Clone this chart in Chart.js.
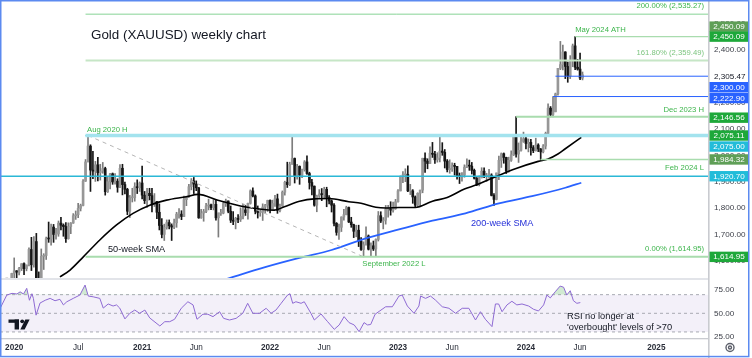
<!DOCTYPE html>
<html>
<head>
<meta charset="utf-8">
<title>Gold (XAUUSD) weekly chart</title>
<script src="https://cdn.jsdelivr.net/npm/chart.js@4.4.1/dist/chart.umd.min.js"></script>
<style>
  html, body { margin: 0; padding: 0; background: #fff; }
  canvas { display: block; }
</style>
</head>
<body>
<canvas id="goldChart" width="752" height="358"></canvas>
<script>
// Weekly candles. Week 0 = week of 6 Jan 2020, first candle is week of 2 Dec 2019.
const firstWeek = -5;

const opens = [
  1464, 1460, 1476, 1478, 1511,
  // 2020
  1552, 1562, 1557, 1571, 1589, 1570, 1584, 1643, 1585, 1673, 1530, 1498, 1617,
  1620, 1684, 1683, 1728, 1700, 1702, 1743, 1735, 1730, 1684, 1730, 1743, 1771,
  1775, 1799, 1810, 1902, 1975, 2035, 1944, 1940, 1964, 1934, 1940, 1950, 1862,
  1900, 1930, 1899, 1902, 1879, 1951, 1889, 1871, 1788, 1839, 1839, 1881, 1877,
  // 2021
  1895, 1849, 1828, 1856, 1847, 1814, 1824, 1784, 1734, 1700, 1727, 1745, 1733,
  1728, 1744, 1777, 1777, 1768, 1832, 1843, 1881, 1903, 1891, 1877, 1763, 1781,
  1787, 1808, 1812, 1802, 1814, 1763, 1780, 1781, 1817, 1827, 1788, 1754, 1750,
  1761, 1757, 1768, 1793, 1783, 1818, 1865, 1846, 1788, 1783, 1784, 1804, 1811,
  // 2022
  1829, 1797, 1817, 1835, 1791, 1808, 1860, 1898, 1889, 1966, 1988, 1921, 1958,
  1925, 1946, 1975, 1931, 1897, 1883, 1811, 1846, 1853, 1851, 1871, 1840, 1827,
  1811, 1742, 1708, 1727, 1766, 1775, 1802, 1747, 1737, 1712, 1716, 1675, 1643,
  1661, 1694, 1644, 1657, 1645, 1681, 1771, 1751, 1754, 1797, 1797, 1792, 1798,
  // 2023
  1824, 1865, 1920, 1926, 1928, 1865, 1865, 1842, 1811, 1856, 1868, 1989, 1978,
  1969, 2008, 2004, 1983, 1990, 2016, 2011, 1978, 1946, 1948, 1961, 1958, 1921,
  1919, 1925, 1955, 1962, 1959, 1943, 1913, 1889, 1915, 1940, 1919, 1924, 1925,
  1848, 1833, 1933, 1981, 2006, 1992, 1940, 1981, 2002, 2072, 2005, 2019, 2053,
  // 2024
  2063, 2045, 2049, 2029, 2018, 2039, 2024, 2013, 2035, 2083, 2179, 2155,
  2165, 2233, 2330, 2344, 2392, 2337, 2301, 2360, 2415, 2334, 2327, 2293
];

const highs = [
  1485, 1481, 1482, 1514, 1553,
  1611, 1563, 1575, 1589, 1592, 1584, 1649, 1689, 1692, 1704, 1558, 1645, 1627,
  1690, 1747, 1739, 1738, 1723, 1751, 1765, 1740, 1745, 1744, 1745, 1779, 1789,
  1818, 1815, 1908, 1984, 2075, 2040, 2015, 1977, 1992, 1966, 1973, 1955, 1917,
  1932, 1933, 1931, 1911, 1965, 1966, 1899, 1875, 1848, 1875, 1896, 1907, 1899,
  1959, 1863, 1875, 1875, 1875, 1855, 1826, 1816, 1760, 1739, 1755, 1755, 1740,
  1758, 1784, 1798, 1790, 1845, 1845, 1890, 1912, 1916, 1903, 1878, 1795, 1795,
  1818, 1834, 1815, 1832, 1831, 1782, 1795, 1823, 1834, 1827, 1808, 1787, 1765,
  1775, 1801, 1814, 1810, 1819, 1869, 1877, 1850, 1808, 1793, 1816, 1814, 1830,
  1831, 1830, 1848, 1853, 1815, 1865, 1902, 1974, 1974, 2070, 1990, 1966, 1960,
  1948, 1980, 1998, 1936, 1909, 1884, 1849, 1870, 1874, 1879, 1879, 1847, 1831,
  1817, 1745, 1739, 1767, 1795, 1807, 1804, 1765, 1739, 1735, 1735, 1688, 1672,
  1729, 1698, 1668, 1675, 1683, 1787, 1786, 1764, 1810, 1810, 1824, 1823, 1833,
  1870, 1922, 1938, 1949, 1960, 1890, 1870, 1846, 1858, 1868, 1989, 2009, 1987,
  2032, 2049, 2015, 2010, 2079, 2048, 2022, 1984, 1983, 1972, 1970, 1958, 1933,
  1935, 1964, 1987, 1982, 1973, 1948, 1916, 1922, 1953, 1953, 1932, 1947, 1930,
  1855, 1933, 1997, 2009, 2009, 1993, 1993, 2017, 2076, 2146.56, 2047, 2070, 2088,
  2078, 2062, 2061, 2037, 2065, 2044, 2026, 2041, 2088, 2195, 2185, 2222.90,
  2236, 2330, 2432, 2418, 2393, 2354, 2378, 2422, 2450.09, 2364, 2388, 2316
];

const lows = [
  1457, 1456, 1469, 1477, 1508,
  1536, 1536, 1546, 1563, 1547, 1562, 1581, 1563, 1576, 1504, 1451, 1482, 1567,
  1605, 1670, 1659, 1670, 1682, 1693, 1717, 1693, 1670, 1682, 1703, 1742, 1757,
  1764, 1789, 1808, 1901, 1975, 1863, 1911, 1901, 1903, 1906, 1932, 1849, 1859,
  1873, 1890, 1891, 1860, 1877, 1850, 1854, 1775, 1764, 1823, 1826, 1855, 1863,
  1835, 1817, 1802, 1831, 1785, 1806, 1760, 1717, 1687, 1677, 1720, 1721, 1677,
  1722, 1727, 1762, 1756, 1767, 1809, 1840, 1869, 1855, 1866, 1761, 1761, 1750,
  1783, 1793, 1794, 1793, 1754, 1690, 1772, 1778, 1806, 1782, 1745, 1737, 1721,
  1745, 1749, 1759, 1772, 1758, 1815, 1842, 1778, 1762, 1769, 1753, 1782, 1787,
  1782, 1797, 1806, 1780, 1785, 1807, 1849, 1878, 1885, 1966, 1895, 1910, 1890,
  1915, 1940, 1928, 1872, 1850, 1807, 1786, 1840, 1828, 1836, 1805, 1816, 1785,
  1732, 1697, 1681, 1711, 1754, 1774, 1745, 1727, 1688, 1691, 1654, 1639, 1614.95,
  1659, 1641, 1618, 1639, 1617, 1675, 1745, 1721, 1739, 1765, 1773, 1784, 1795,
  1822, 1865, 1896, 1900, 1862, 1851, 1818, 1804, 1805, 1809, 1858, 1935, 1949,
  1969, 1992, 1969, 1974, 1975, 2000, 1952, 1937, 1932, 1939, 1925, 1910, 1893,
  1902, 1917, 1953, 1943, 1929, 1910, 1885, 1884, 1914, 1915, 1901, 1913, 1846,
  1810, 1831, 1908, 1954, 1970, 1931, 1936, 1977, 1999, 1993, 1973, 2016, 2049,
  2024, 2013, 2001, 2010, 2016, 2014, 1984.32, 2009, 2024, 2078, 2146, 2146,
  2165, 2228, 2325, 2324, 2291, 2277, 2291, 2336, 2325, 2323, 2287, 2286
];

const closes = [
  1460, 1476, 1478, 1511, 1552,
  1562, 1557, 1571, 1589, 1570, 1584, 1643, 1585, 1673, 1530, 1498, 1617, 1620,
  1684, 1683, 1728, 1700, 1702, 1743, 1735, 1730, 1684, 1730, 1743, 1771, 1775,
  1799, 1810, 1902, 1975, 2035, 1944, 1940, 1964, 1934, 1940, 1950, 1862, 1900,
  1930, 1899, 1902, 1879, 1951, 1889, 1871, 1788, 1839, 1839, 1881, 1877, 1895,
  1849, 1828, 1856, 1847, 1814, 1824, 1784, 1734, 1700, 1727, 1745, 1733, 1728,
  1744, 1777, 1777, 1768, 1832, 1843, 1881, 1903, 1891, 1877, 1763, 1781, 1787,
  1808, 1812, 1802, 1814, 1763, 1780, 1781, 1817, 1827, 1788, 1754, 1750, 1761,
  1757, 1768, 1793, 1783, 1818, 1865, 1846, 1788, 1783, 1784, 1804, 1811, 1829,
  1797, 1817, 1835, 1791, 1808, 1860, 1898, 1889, 1966, 1988, 1921, 1958, 1925,
  1946, 1975, 1931, 1897, 1883, 1811, 1846, 1853, 1851, 1871, 1840, 1827, 1811,
  1742, 1708, 1727, 1766, 1775, 1802, 1747, 1737, 1712, 1716, 1675, 1643, 1661,
  1694, 1644, 1657, 1645, 1681, 1771, 1751, 1754, 1797, 1797, 1792, 1798, 1824,
  1865, 1920, 1926, 1928, 1865, 1865, 1842, 1811, 1856, 1868, 1989, 1978, 1969,
  2008, 2004, 1983, 1990, 2016, 2011, 1978, 1946, 1948, 1961, 1958, 1921, 1919,
  1925, 1955, 1962, 1959, 1943, 1913, 1889, 1915, 1940, 1919, 1924, 1925, 1848,
  1833, 1933, 1981, 2006, 1992, 1940, 1981, 2002, 2072, 2005, 2019, 2053, 2063,
  2045, 2049, 2029, 2018, 2039, 2024, 2013, 2035, 2083, 2179, 2155, 2165,
  2233, 2330, 2344, 2392, 2337, 2301, 2360, 2415, 2334, 2327, 2293, 2305.47
];

// moving averages (week, price)
const sma50Weeks  = [18.6, 22.7, 28.1, 34.8, 41.6, 48.3, 55.1, 61.9, 70, 74.7, 82.8, 93.6, 105.8, 109.8, 116, 122, 128, 136, 141, 147, 151, 156.4, 163, 170, 176, 183, 188, 194, 204, 213, 217, 221, 224, 230.5];
const sma50Values = [1539, 1565, 1615, 1679, 1736, 1780, 1811, 1830, 1843, 1852, 1830, 1805, 1792, 1805, 1826, 1835, 1836, 1824, 1818, 1803, 1800, 1802, 1802, 1826, 1840, 1872, 1888, 1912, 1950, 1977, 1986, 2005, 2025, 2068];
const sma200Weeks  = [86, 88.7, 102, 115.9, 129, 142.9, 156.4, 170, 183.4, 197, 210.5, 224, 230.5];
const sma200Values = [1530, 1538, 1576, 1611, 1641, 1685, 1719, 1752, 1780, 1818, 1845, 1877, 1896];

// RSI (14)
const rsiWeeks = [-5.7, -3, -0.9, 1.1, 2.4, 3.8, 5.1, 6.2, 7.2, 7.8, 8.9, 10.5, 12.6, 14.6, 16.6, 18.6, 20, 21.4, 24, 26.7,
  28.8, 30.1, 32.1, 34.8, 36.2, 38.2, 40.2, 41.6, 42.9, 45, 47, 49, 51, 53.1, 55.1, 59.2, 61.2, 63.2, 65.2, 67.9,
  70.6, 72.7, 74.3, 76.7, 78.7, 80.8, 83.5, 85.1, 87.5, 90.2, 92.9, 94.9, 97, 99.7, 102.4, 104.4, 106.4, 108.5, 111.1, 112.1,
  113.2, 114.5, 116.6, 117.9, 120.6, 122, 124.7, 127.4, 130.1, 132.1, 134.1, 136.1, 138.2, 140.2, 142.2, 143.6, 144.9, 146.7, 148.3, 151,
  153.7, 156.4, 157.7, 159.8, 162.5, 164.5, 165.2, 167.2, 169.2, 171.3, 174, 176.7, 179.4, 182.1, 184.8, 187.5, 189.5, 191.5, 194.2, 195.6,
  196.9, 198.3, 200.3, 202.3, 204.3, 206.4, 209.1, 211.1, 213.1, 215.2, 216.5, 217.9, 219.9, 221.9, 223.3, 224.6, 226, 227.3, 228.7, 230.1];
const rsiValues = [55.4, 69.6, 71.4, 70.7, 73, 70.7, 76.8, 64, 71, 66, 48, 61, 64, 66, 63.5, 65, 59, 62.4, 66, 69.6,
  80.3, 68.5, 67.7, 66, 55.6, 60, 57.8, 59, 55.6, 44, 50, 53.5, 50, 53.5, 45, 36.4, 41, 41, 43.6, 55.4,
  62.4, 59, 43.6, 49, 49, 46.4, 51.7, 44.6, 42.8, 44.6, 50, 60.7, 50, 50, 55.4, 50, 53.5, 60.7, 69.6, 71,
  60.7, 62.4, 60.7, 62.4, 50, 42.8, 49.3, 41, 32.8, 37.5, 46.4, 40, 37.5, 30.3, 40, 37.5, 38, 49, 52, 57,
  57, 68.5, 69.6, 57.8, 50, 57.8, 68.5, 66, 68.5, 64, 57, 55.4, 50, 55.4, 55.4, 42.8, 51.7, 43.6, 35.7, 60,
  60, 51.7, 59, 62.9, 59, 60, 57.8, 54.3, 52.5, 59, 69.6, 66.5, 73.1, 79.2, 78, 69.6, 74.2, 63.5, 60.7, 61.5];
const rsiLevels = [70, 50, 30];

// drawn levels: price and the week where each line starts
const levelPrices = [2535.27, 2450.09, 2359.49, 2300.00, 2222.90, 2146.56, 2075.11, 2075.00, 1984.32, 1920.70, 1614.95];
const levelStarts = [29, 228, 29, 220, 219, 204, 29, 29, 214, -6, 29];
// dashed trend line from the Aug 2020 high to the Sep 2022 low
const trendWeeks = [30, 142];
const trendPrices = [2075.11, 1614.95];

const levelLabelTexts  = ['200.00% (2,535.27)', 'May 2024 ATH', '161.80% (2,359.49)', 'Dec 2023 H', 'Aug 2020 H', 'Feb 2024 L', '0.00% (1,614.95)', 'September 2022 L'];
const levelLabelPrices = [2535.27, 2450.09, 2359.49, 2146.56, 2075.11, 1984.32, 1614.95, 1614.95];

const badgeValues = [2450.09, 2450.09, 2300.00, 2222.90, 2146.56, 2075.11, 2075.00, 1984.32, 1920.70, 1614.95];

// axes
const priceTicks = [1600, 1700, 1800, 1900, 2000, 2100, 2200, 2300, 2400, 2500];
const rsiTicks = [25, 50, 75];
const xTickWeeks = [0, 26, 52, 74, 104, 126, 156, 178, 208, 230, 261];
const xTickLabels = ['2020', 'Jul', '2021', 'Jun', '2022', 'Jun', '2023', 'Jun', '2024', 'Jun', '2025'];

// ---- styling ----
const X_MIN = -5.77, X_MAX = 282;
const FONT = "'Liberation Sans', Arial, sans-serif";
const GREEN_TXT = '#3db54c';
const levelLook = [
  { c: '#86d395', w: 1 },
  { c: '#a9dcae', w: 1.2 },
  { c: '#c6e6c6', w: 2 },
  { c: '#2962ff', w: 1 },
  { c: '#2962ff', w: 1 },
  { c: '#a9dcae', w: 2 },
  { c: '#a3e3ee', w: 3.5 },
  { c: '#22b3d2', w: 1.3 },
  { c: '#a9dcae', w: 1.5 },
  { c: '#2bb8d6', w: 1.3 },
  { c: '#a9dcae', w: 2 }
];
const levelLabelLook = [
  { at: 'right', dy: -8, c: GREEN_TXT },
  { at: 228, dy: -7, c: GREEN_TXT },
  { at: 'right', dy: -8, c: '#7cc47f' },
  { at: 'right', dy: -7, c: GREEN_TXT },
  { at: 29.6, dy: -6, c: GREEN_TXT },
  { at: 'right', dy: 8, c: GREEN_TXT },
  { at: 'right', dy: -8, c: GREEN_TXT },
  { at: 141.5, dy: 7, c: GREEN_TXT }
];
const badgeLook = [
  { bg: '#5f9f57', dy: -10 },
  { bg: '#1ea83a', dy: 0 },
  { bg: '#2962ff', dy: 11 },
  { bg: '#2962ff', dy: 1.5 },
  { bg: '#1ea83a', dy: 1 },
  { bg: '#1ea83a', dy: 0 },
  { bg: '#22bcd9', dy: 11 },
  { bg: '#5f9f57', dy: 0 },
  { bg: '#22bcd9', dy: 0 },
  { bg: '#1ea83a', dy: 0 }
];

const fmt = v => v.toLocaleString('en-US', { minimumFractionDigits: 2, maximumFractionDigits: 2 });
const weeks = closes.map((_, i) => firstWeek + i);
const isUp = i => closes[i] >= opens[i];

const wickData = weeks.map((w, i) => ({ x: w, y: [lows[i], highs[i]] }));
const bodyData = weeks.map((w, i) => ({ x: w, y: [opens[i], closes[i]] }));
const pairs = (xs, ys) => xs.map((x, i) => ({ x, y: ys[i] }));

const levelSets = levelPrices.map((p, i) => ({
  type: 'line',
  yAxisID: 'y',
  data: [{ x: levelStarts[i], y: p }, { x: X_MAX, y: p }],
  borderColor: levelLook[i].c,
  borderWidth: levelLook[i].w,
  pointRadius: 0
}));

const rsiLevelSets = rsiLevels.map(v => ({
  type: 'line',
  yAxisID: 'yRsi',
  data: [{ x: X_MIN, y: v }, { x: X_MAX, y: v }],
  borderColor: '#a8aab2',
  borderWidth: 1,
  borderDash: [3, 3],
  pointRadius: 0,
  fill: false,
  backgroundColor: 'rgba(126, 87, 194, 0.09)'
}));
rsiLevelSets[2].fill = '-2'; // shade between 70 and 30

function txt(ctx, s, x, y, color, size, align, weight) {
  ctx.font = `${weight || 'normal'} ${size}px ${FONT}`;
  ctx.fillStyle = color;
  ctx.textAlign = align || 'left';
  ctx.textBaseline = 'middle';
  ctx.fillText(s, x, y);
}

// no extra padding around the panes
const noPad = s => { s.paddingTop = 0; s.paddingBottom = 0; s.paddingLeft = 0; s.paddingRight = 0; };

// keep each dataset inside its own pane
const paneClip = {
  id: 'paneClip',
  beforeDatasetDraw(chart, args) {
    const ys = args.meta.yScale, a = chart.chartArea, ctx = chart.ctx;
    ctx.save();
    ctx.beginPath();
    ctx.rect(a.left, ys.top, a.right - a.left, ys.bottom - ys.top);
    ctx.clip();
  },
  afterDatasetDraw(chart) {
    chart.ctx.restore();
  }
};

const overlay = {
  id: 'overlay',
  afterDraw(chart) {
    const { ctx, chartArea: a, scales } = chart;
    const x = scales.x, y = scales.y;
    ctx.save();

    // pane / axis separators
    ctx.fillStyle = '#e2e4e9';
    ctx.fillRect(a.left, y.bottom - 1, a.right - a.left, 2);
    ctx.fillStyle = '#c9cbd0';
    ctx.fillRect(a.right, 0, 1.6, chart.height);
    ctx.fillRect(0, a.bottom, a.right, 1.3);

    // title + notes
    txt(ctx, 'Gold (XAUUSD) weekly chart', 91, 35, '#131722', 13.4);
    txt(ctx, '50-week SMA', 108, 249.5, '#131722', 9.2);
    txt(ctx, '200-week SMA', 471, 223, '#2530d8', 9.2);
    txt(ctx, 'RSI no longer at', 567, 316, '#131722', 9.3);
    txt(ctx, "'overbought' levels of >70", 567, 327.5, '#131722', 9.3);

    // level labels
    levelLabelTexts.forEach((s, i) => {
      const lk = levelLabelLook[i];
      const py = y.getPixelForValue(levelLabelPrices[i]) + lk.dy;
      if (lk.at === 'right') txt(ctx, s, a.right - 4, py, lk.c, 7.7, 'right');
      else txt(ctx, s, x.getPixelForValue(lk.at), py, lk.c, 7.7, 'left');
    });

    // last price text on the axis
    const lastPrice = closes[closes.length - 1];
    const lp = y.getPixelForValue(lastPrice) + 1.5;
    ctx.fillStyle = '#fff';
    ctx.fillRect(a.right + 2, lp - 5, 38, 10);
    txt(ctx, fmt(lastPrice), a.right + 6, lp, '#131722', 8.1);

    // price badges
    badgeValues.forEach((v, i) => {
      const py = y.getPixelForValue(v) + badgeLook[i].dy;
      ctx.fillStyle = badgeLook[i].bg;
      ctx.fillRect(a.right + 1.5, py - 5.2, 39, 10.4);
      txt(ctx, fmt(v), a.right + 21, py + 0.3, '#ffffff', 8.1, 'center');
    });

    // TradingView logo
    ctx.fillStyle = '#131722';
    ctx.fillRect(8.5, 319.5, 10.5, 3.3);
    ctx.fillRect(14.6, 319.5, 4.4, 10);
    ctx.beginPath();
    ctx.arc(22.2, 321.3, 1.9, 0, Math.PI * 2);
    ctx.fill();
    ctx.beginPath();
    ctx.moveTo(25.3, 319.5); ctx.lineTo(29.6, 319.5); ctx.lineTo(24.6, 329.5); ctx.lineTo(20.3, 329.5);
    ctx.closePath();
    ctx.fill();

    // settings gear
    ctx.strokeStyle = '#5d606b';
    ctx.lineWidth = 1.4;
    ctx.beginPath(); ctx.arc(730, 347.5, 4, 0, Math.PI * 2); ctx.stroke();
    ctx.beginPath(); ctx.arc(730, 347.5, 1.5, 0, Math.PI * 2); ctx.stroke();

    // frame
    ctx.strokeStyle = '#5c8af0';
    ctx.lineWidth = 1.5;
    ctx.strokeRect(0.75, 0.75, 748, 355.8);
    ctx.restore();
  }
};

Chart.defaults.font.family = FONT;

new Chart(document.getElementById('goldChart'), {
  type: 'line',
  data: {
    datasets: [
      ...levelSets,
      {
        type: 'line', yAxisID: 'y',
        data: pairs(trendWeeks, trendPrices),
        borderColor: '#b5b5b5', borderWidth: 1, borderDash: [4, 4], pointRadius: 0
      },
      {
        type: 'line', yAxisID: 'y',
        data: pairs(sma50Weeks, sma50Values),
        borderColor: '#000000', borderWidth: 1.6, pointRadius: 0, cubicInterpolationMode: 'monotone'
      },
      {
        type: 'line', yAxisID: 'y',
        data: pairs(sma200Weeks, sma200Values),
        borderColor: '#2962ff', borderWidth: 1.8, pointRadius: 0, cubicInterpolationMode: 'monotone'
      },
      {
        type: 'bar', yAxisID: 'y',
        data: bodyData,
        backgroundColor: weeks.map((_, i) => isUp(i) ? '#979797' : '#161616'),
        barThickness: 2, grouped: false, minBarLength: 1, borderWidth: 0
      },
      {
        type: 'bar', yAxisID: 'y',
        data: wickData,
        backgroundColor: weeks.map((_, i) => isUp(i) ? '#7d7d7d' : '#161616'),
        barThickness: 1, grouped: false, borderWidth: 0
      },
      {
        type: 'line', yAxisID: 'yRsi',
        data: pairs(rsiWeeks, rsiValues),
        borderColor: '#8e6ad3', borderWidth: 1, pointRadius: 0,
        fill: { target: { value: 70 }, above: 'rgba(102, 187, 106, 0.3)', below: 'rgba(0,0,0,0)' }
      },
      ...rsiLevelSets
    ]
  },
  options: {
    responsive: false,
    animation: false,
    events: [],
    layout: { padding: 0 },
    elements: { line: { tension: 0 } },
    plugins: { legend: { display: false }, tooltip: { enabled: false } },
    scales: {
      x: {
        type: 'linear',
        min: X_MIN, max: X_MAX,
        offset: false,
        grid: { display: false, drawTicks: false },
        border: { display: false },
        afterBuildTicks: s => { s.ticks = xTickWeeks.map(v => ({ value: v })); },
        afterFit: s => { s.height = 20; noPad(s); },
        ticks: {
          autoSkip: false, maxRotation: 0, padding: 5, color: '#2a2e39',
          font: c => ({ size: 8.2, weight: /^\d{4}$/.test(xTickLabels[c.index] || '') ? 'bold' : 'normal' }),
          callback: (v, i) => xTickLabels[i]
        }
      },
      y: {
        type: 'linear', position: 'right', stack: 'panes', stackWeight: 279,
        min: 1531, max: 2589,
        grid: { display: false, drawTicks: false },
        border: { display: false },
        afterBuildTicks: s => { s.ticks = priceTicks.map(v => ({ value: v })); },
        afterFit: s => { s.width = 44; noPad(s); },
        ticks: { autoSkip: false, padding: 6, color: '#3c3f48', font: { size: 8.1 }, callback: v => fmt(v) }
      },
      yRsi: {
        type: 'linear', position: 'right', stack: 'panes', stackWeight: 59,
        min: 23.5, max: 86.8,
        grid: { display: false, drawTicks: false },
        border: { display: false },
        afterBuildTicks: s => { s.ticks = rsiTicks.map(v => ({ value: v })); },
        afterFit: s => { s.width = 44; noPad(s); },
        ticks: { autoSkip: false, padding: 6, color: '#3c3f48', font: { size: 8.1 }, callback: v => fmt(v) }
      }
    }
  },
  plugins: [paneClip, overlay]
});
</script>
</body>
</html>
